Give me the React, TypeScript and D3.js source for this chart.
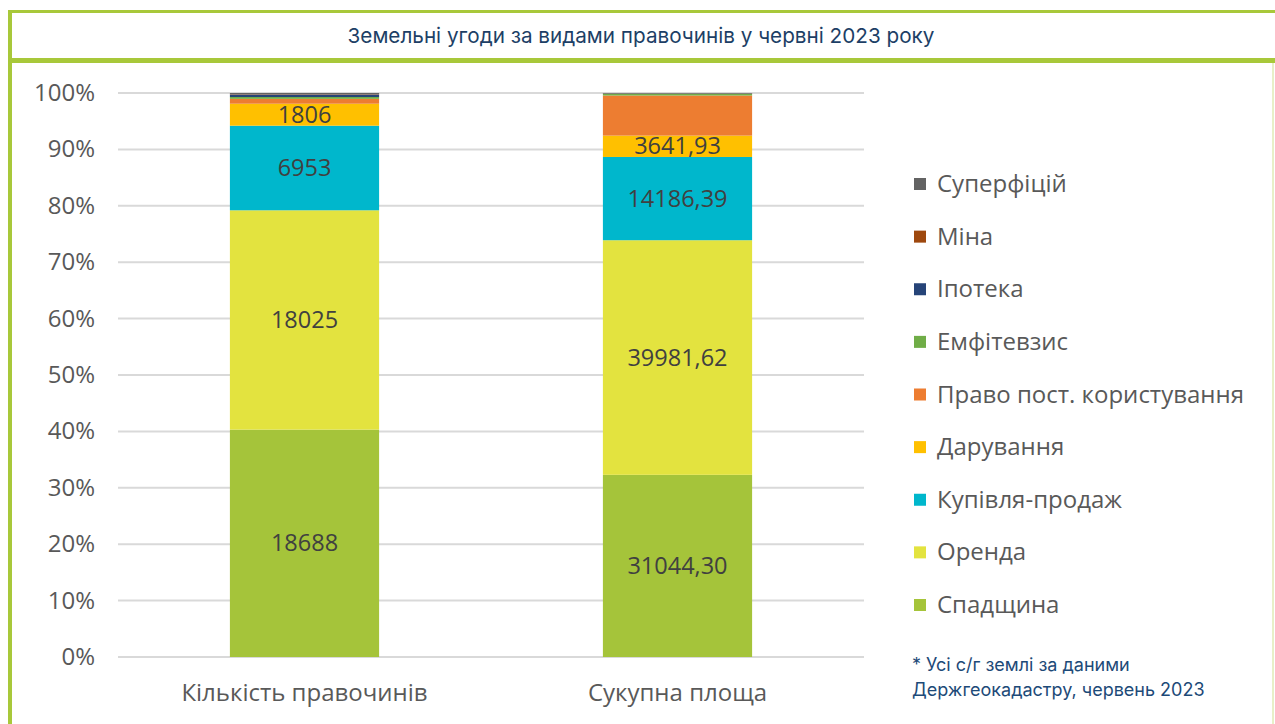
import React, { useEffect, useRef } from 'react';
import * as d3 from 'd3';

const categories = ['Кількість правочинів', 'Сукупна площа'];
const seriesNames = ['Спадщина', 'Оренда', 'Купівля-продаж', 'Дарування', 'Право пост. користування', 'Емфітевзис', 'Іпотека', 'Міна', 'Суперфіцій'];
const seriesColors = ['#a5c43a', '#e3e33f', '#00b7cc', '#ffc000', '#ed7d31', '#70ad47', '#264478', '#9e480e', '#636363'];
// values per series: [count, area]
const spadshchyna = [18688, 31044.30];
const orenda = [18025, 39981.62];
const kupivlia = [6953, 14186.39];
const daruvannia = [1806, 3641.93];
const pravoPost = [400, 6830];
const emfitevzys = [150, 280];
const ipoteka = [200, 20];
const mina = [30, 30];
const superfitsii = [100, 100];
const labelTexts = [['18688', '31044,30'], ['18025', '39981,62'], ['6953', '14186,39'], ['1806', '3641,93']];
const yTicks = [0, 0.1, 0.2, 0.3, 0.4, 0.5, 0.6, 0.7, 0.8, 0.9, 1];

const title = 'Земельні угоди за видами правочинів у червні 2023 року';
const note = ['* Усі с/г землі за даними', 'Держгеокадастру, червень 2023'];

export default function App() {
  const ref = useRef<SVGSVGElement>(null);

  useEffect(() => {
    const svg = d3.select(ref.current);
    svg.selectAll('*').remove();

    const W = 1275, H = 724;
    const green = '#a8c83a';
    const font = '"Open Sans", sans-serif';

    // frame
    svg.append('rect').attr('x', 0).attr('y', 0).attr('width', W).attr('height', H).attr('fill', '#fff');
    svg.append('rect').attr('x', 8).attr('y', 10).attr('width', W - 8).attr('height', 3).attr('fill', green);
    svg.append('rect').attr('x', 8).attr('y', 10).attr('width', 4).attr('height', H - 10).attr('fill', green);
    svg.append('rect').attr('x', 8).attr('y', 58).attr('width', W - 8).attr('height', 5).attr('fill', green);
    svg.append('rect').attr('x', 1272).attr('y', 63).attr('width', 2).attr('height', H - 63).attr('fill', '#e8f0c8');

    svg.append('text').attr('x', 641).attr('y', 43).attr('text-anchor', 'middle')
      .attr('font-family', 'Inter, "Noto Sans", sans-serif').attr('font-size', 20.7).attr('fill', '#1d3f66')
      .text(title);

    const rows = [spadshchyna, orenda, kupivlia, daruvannia, pravoPost, emfitevzys, ipoteka, mina, superfitsii];
    const table = categories.map((c, i) => {
      const o: any = { cat: c };
      seriesNames.forEach((s, j) => { o[s] = rows[j][i]; });
      return o;
    });
    const stacked = d3.stack().keys(seriesNames).offset(d3.stackOffsetExpand)(table);

    const x = d3.scaleBand().domain(categories).range([118, 864]).paddingInner(0.6).paddingOuter(0.3);
    const y = d3.scaleLinear().domain([0, 1]).range([657, 93]);

    const g = svg.append('g');
    g.selectAll('line.grid').data(yTicks).join('line')
      .attr('x1', 118).attr('x2', 864)
      .attr('y1', d => y(d)).attr('y2', d => y(d))
      .attr('stroke', '#d9d9d9').attr('stroke-width', 2);

    g.selectAll('text.tick').data(yTicks).join('text')
      .attr('x', 95).attr('y', d => y(d) + 8).attr('text-anchor', 'end')
      .attr('font-family', font).attr('font-size', 24).attr('fill', '#595959')
      .text(d => d3.format('.0%')(d));

    stacked.forEach((layer, j) => {
      g.append('g').selectAll('rect').data(layer).join('rect')
        .attr('x', d => x(d.data.cat as string)!)
        .attr('width', x.bandwidth())
        .attr('y', d => y(d[1]))
        .attr('height', d => y(d[0]) - y(d[1]))
        .attr('fill', seriesColors[j]);
    });

    stacked.slice(0, 4).forEach((layer, j) => {
      g.append('g').selectAll('text').data(layer).join('text')
        .attr('x', d => x(d.data.cat as string)! + x.bandwidth() / 2)
        .attr('y', d => y((d[0] + d[1]) / 2) + 8)
        .attr('text-anchor', 'middle')
        .attr('font-family', font).attr('font-size', 23.5).attr('fill', '#404040')
        .text((d, i) => labelTexts[j][i]);
    });

    g.selectAll('text.cat').data(categories).join('text')
      .attr('x', d => x(d)! + x.bandwidth() / 2).attr('y', 701).attr('text-anchor', 'middle')
      .attr('font-family', font).attr('font-size', 24).attr('fill', '#595959')
      .text(d => d);

    // legend, top item = last series
    const legendItems = seriesNames.map((s, i) => ({ s, c: seriesColors[i] })).reverse();
    const ly = d3.scalePoint().domain(legendItems.map(d => d.s)).range([184, 605]);
    const lg = svg.append('g');
    lg.selectAll('rect').data(legendItems).join('rect')
      .attr('x', 914).attr('y', d => ly(d.s)! - 6).attr('width', 12).attr('height', 12).attr('fill', d => d.c);
    lg.selectAll('text').data(legendItems).join('text')
      .attr('x', 937).attr('y', d => ly(d.s)! + 8)
      .attr('font-family', font).attr('font-size', 24).attr('fill', '#595959')
      .text(d => d.s);

    svg.append('g').selectAll('text').data(note).join('text')
      .attr('x', 912).attr('y', (d, i) => 671 + i * 25)
      .attr('font-family', 'Inter, "Noto Sans", sans-serif').attr('font-size', 18).attr('fill', '#1d4a78')
      .text(d => d);
  }, []);

  return <svg ref={ref} width={1275} height={724} style={{ position: 'absolute', left: 0, top: 0 }} />;
}
